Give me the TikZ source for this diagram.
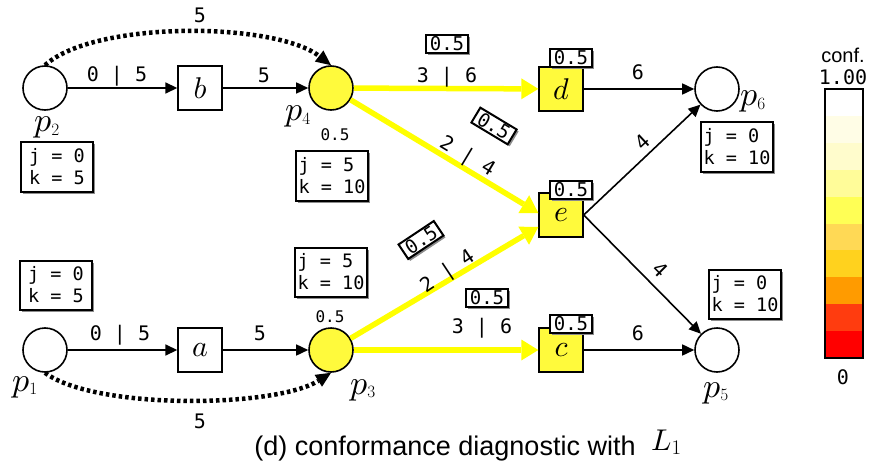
\documentclass[tikz,border=0pt]{standalone}
\usepackage{fontspec}
\setmonofont{DejaVu Sans Mono}
\setsansfont{Liberation Sans}
\DeclareFontShape{OML}{cmm}{m}{it}{<->cmmi10}{}
\usetikzlibrary{arrows.meta,shadows}
\definecolor{ylw}{RGB}{255,255,0}
\definecolor{yfill}{RGB}{255,250,60}
\definecolor{cb1}{RGB}{255,255,255}
\definecolor{cb2}{RGB}{255,253,230}
\definecolor{cb3}{RGB}{255,252,204}
\definecolor{cb4}{RGB}{255,252,153}
\definecolor{cb5}{RGB}{255,255,85}
\definecolor{cb6}{RGB}{255,217,85}
\definecolor{cb7}{RGB}{255,210,30}
\definecolor{cb8}{RGB}{255,155,0}
\definecolor{cb9}{RGB}{255,60,15}
\definecolor{cb10}{RGB}{255,0,0}
\begin{document}
\begin{tikzpicture}[x=1pt,y=-1pt,
  place/.style={circle,draw,line width=1.6pt,minimum size=44pt,inner sep=0pt},
  trans/.style={rectangle,draw,line width=1.4pt,minimum size=44pt,inner sep=0pt,font=\fontsize{30}{30}\selectfont},
  hot/.style={fill=yfill},
  arc/.style={line width=1.6pt,-{Triangle[length=12pt,width=11pt]}},
  yarc/.style={draw=ylw,line width=5.5pt,-{Triangle[length=17pt,width=21pt,line width=0pt]}},
  dotarc/.style={line width=4.5pt,dash pattern=on 3.5pt off 3pt,-{Triangle[length=15pt,width=14pt,line width=0pt]}},
  shd/.style={drop shadow={shadow xshift=2pt,shadow yshift=-2pt,fill=black!45,opacity=1}},
  infobox/.style={draw,line width=2pt,fill=white,shd,font=\fontsize{18.5}{22}\selectfont\ttfamily,align=left,inner xsep=2pt,inner ysep=2pt,minimum width=72pt,minimum height=49pt},
  wbox/.style={draw,line width=2pt,fill=white,shd,font=\fontsize{19}{19}\selectfont\ttfamily,inner xsep=4pt,inner ysep=1.5pt},
  lbl/.style={font=\fontsize{20}{20}\selectfont\ttfamily,anchor=base},
  rlbl/.style={font=\fontsize{20}{20}\selectfont\ttfamily},
  small/.style={font=\fontsize{16}{16}\selectfont\ttfamily},
  plbl/.style={font=\fontsize{34}{34}\selectfont,anchor=base west,inner sep=0pt},
]
\useasboundingbox (0,0) rectangle (890,473);

% places
\node[place] (p2) at (45,88) {};
\node[place,hot] (p4) at (331,88) {};
\node[place] (p1) at (45,350) {};
\node[place,hot] (p3) at (331,350) {};
\node[place] (p6) at (717,89) {};
\node[place] (p5) at (717,350) {};
% transitions
\node[trans] (b) at (200,88) {$b$};
\node[trans] (a) at (200,350) {$a$};
\node[trans,hot] (d) at (561,89) {$d$};
\node[trans,hot] (e) at (561,215) {$e$};
\node[trans,hot] (c) at (561,350) {$c$};

% place labels
\node[plbl] (lp2) at (34,132) {$p_{\scriptscriptstyle 2}$};
\node[plbl] (lp4) at (285,121) {$p_{\scriptscriptstyle 4}$};
\node[plbl] (lp1) at (12,391) {$p_{\scriptscriptstyle 1}$};
\node[plbl] (lp3) at (350,394) {$p_{\scriptscriptstyle 3}$};
\node[plbl] (lp6) at (740,106) {$p_{\scriptscriptstyle 6}$};
\node[plbl] (lp5) at (703,397) {$p_{\scriptscriptstyle 5}$};

% black arcs
\draw[arc] (p2) -- (b);
\draw[arc] (b) -- (p4);
\draw[arc] (p1) -- (a);
\draw[arc] (a) -- (p3);
\draw[arc] (d) -- (p6);
\draw[arc] (c) -- (p5);
\draw[arc] (e.east) -- (p6);
\draw[arc] (e.east) -- (p5);
% dotted arcs
\draw[dotarc] (p2.north) .. controls (95,20) and (275,22) .. (p4.north);
\draw[dotarc] (p1.south) .. controls (95,410) and (275,408) .. (p3.south);
% yellow arcs
\draw[yarc] (p4) -- (d);
\draw[yarc] (p4) -- ([yshift=2pt]e.west);
\draw[yarc] (p3) -- ([yshift=-12pt]e.west);
\draw[yarc] (p3) -- (c);

% arc labels
\node[lbl] (t1) at (117,82) {0 | 5};
\node[lbl] (t2) at (264,83) {5};
\node[lbl] (t3) at (200,23) {5};
\node[lbl] (t4) at (120,340) {0 | 5};
\node[lbl] (t5) at (260,340) {5};
\node[lbl] (t6) at (200,428) {5};
\node[lbl] (t7) at (447,83) {3 | 6};
\node[lbl] (t8) at (482,333) {3 | 6};
\node[lbl] (t9) at (638,80) {6};
\node[lbl] (t10) at (638,340) {6};
\node[rlbl,rotate=43] (t11) at (642,142) {4};
\node[rlbl,rotate=-45] (t12) at (660,270) {4};
\node[rlbl,rotate=-31] (t13) at (467,157) {2 | 4};
\node[rlbl,rotate=33.6] (t14) at (448,272) {2 | 4};

% boxed 0.5 labels
\node[wbox] (w1) at (571,58) {0.5};
\node[wbox] (w2) at (571,190) {0.5};
\node[wbox] (w3) at (571,324) {0.5};
\node[wbox] (w4) at (447,44) {0.5};
\node[wbox] (w5) at (487,298) {0.5};
\node[wbox,rotate=-31] (w6) at (494,126) {0.5};
\node[wbox,rotate=33.6] (w7) at (421,240) {0.5};

% small 0.5
\node[small] (s4) at (335,135) {0.5};
\node[small] (s3) at (330,317) {0.5};

% info boxes
\node[infobox] (i2) at (57,167) {j = 0\\k = 5};
\node[infobox] (i4) at (332,176) {j = 5\\k = 10};
\node[infobox] (i1) at (56,285) {j = 0\\k = 5};
\node[infobox] (i3) at (331,272) {j = 5\\k = 10};
\node[infobox] (i6) at (737,147) {j = 0\\k = 10};
\node[infobox] (i5) at (745,294) {j = 0\\k = 10};

% colour bar
\foreach \i in {1,...,10} {
  \fill[cb\i] (825,{89+(\i-1)*26.9}) rectangle (863,{89+\i*26.9});
}
\draw[line width=1.5pt] (825,89) rectangle (863,358);
\node[font=\fontsize{20}{20}\selectfont\sffamily] (conf) at (843,55) {conf.};
\node[font=\fontsize{20}{20}\selectfont\ttfamily] (one) at (843,77) {1.00};
\node[font=\fontsize{20}{20}\selectfont\ttfamily] (zero) at (843,377) {0};

% caption
\node[font=\fontsize{27}{27}\selectfont\sffamily] (cap) at (445,449) {(d) conformance diagnostic with};
\node[font=\fontsize{30}{30}\selectfont,anchor=base west,inner sep=0pt] (capL) at (651,450) {$L_{\scriptstyle 1}$};
\end{tikzpicture}
\end{document}
